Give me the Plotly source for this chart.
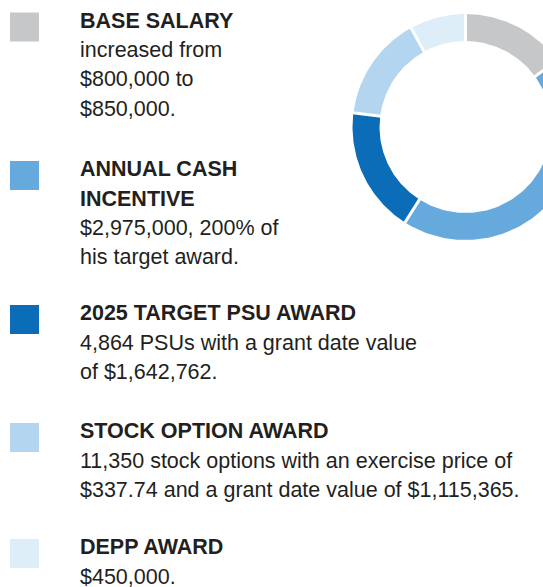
import numpy as np
import plotly.graph_objects as go

# ---- data ----
categories = ["Base salary", "Annual cash incentive", "2025 target PSU award",
              "Stock option award", "DEPP award"]
shares = [15, 44, 18, 15, 8]  # share of the ring (%)
title_lines = [["BASE SALARY"], ["ANNUAL CASH", "INCENTIVE"], ["2025 TARGET PSU AWARD"],
               ["STOCK OPTION AWARD"], ["DEPP AWARD"]]
detail_lines = [["increased from", "$800,000 to", "$850,000."],
                ["$2,975,000, 200% of", "his target award."],
                ["4,864 PSUs with a grant date value", "of $1,642,762."],
                ["11,350 stock options with an exercise price of",
                 "$337.74 and a grant date value of $1,115,365."],
                ["$450,000."]]

# ---- styles / layout (window pixel coordinates) ----
colors = ["#c6c7c9", "#66a9dc", "#0b6cb8", "#b4d5ef", "#ddeef9"]
W, H = 543, 587
CX, CY, R_OUT, R_IN = 465.5, 127, 113, 86
block_tops = [12.5, 161, 305, 423, 539]
SQ = 29
TEXT_X = 78
FS = 21.5
STEP = 29.4
FONT = "Liberation Sans, Arial, sans-serif"
TXT_COLOR = "#231f20"

fig = go.Figure()

total = float(sum(shares))
cum = np.concatenate([[0], np.cumsum(shares)]) / total * 2 * np.pi
for i, cat in enumerate(categories):
    t = np.linspace(cum[i], cum[i + 1], 120)
    xs = np.concatenate([CX + R_OUT * np.sin(t), CX + R_IN * np.sin(t[::-1])])
    ys = np.concatenate([CY - R_OUT * np.cos(t), CY - R_IN * np.cos(t[::-1])])
    fig.add_trace(go.Scatter(x=xs, y=ys, fill="toself", fillcolor=colors[i],
                             line=dict(width=0, color=colors[i]), mode="lines",
                             name=cat, hoverinfo="skip", showlegend=False))
# white separators between slices
for a in cum[:-1]:
    fig.add_trace(go.Scatter(x=[CX + (R_IN - 3) * np.sin(a), CX + (R_OUT + 3) * np.sin(a)],
                             y=[CY - (R_IN - 3) * np.cos(a), CY - (R_OUT + 3) * np.cos(a)],
                             mode="lines", line=dict(color="white", width=3),
                             hoverinfo="skip", showlegend=False))

annotations = []
shapes = []
for i in range(len(categories)):
    top = block_tops[i]
    shapes.append(dict(type="rect", xref="x", yref="y", x0=10, x1=10 + SQ,
                       y0=top, y1=top + SQ, fillcolor=colors[i], line=dict(width=0)))
    lines = [(f"<b>{s}</b>") for s in title_lines[i]] + detail_lines[i]
    base0 = top + 15.7
    for k, s in enumerate(lines):
        baseline = base0 + k * STEP
        annotations.append(dict(x=TEXT_X, y=baseline - 0.35 * FS, xref="x", yref="y",
                                text=s, showarrow=False, xanchor="left", yanchor="middle",
                                font=dict(family=FONT, size=FS, color=TXT_COLOR)))

fig.update_layout(
    width=W, height=H, margin=dict(l=0, r=0, t=0, b=0),
    paper_bgcolor="white", plot_bgcolor="white",
    xaxis=dict(range=[0, W], visible=False, fixedrange=True),
    yaxis=dict(range=[H, 0], visible=False, fixedrange=True),
    shapes=shapes, annotations=annotations, showlegend=False,
    hovermode=False,
)

fig.write_html(
    "out.html",
    config={"displayModeBar": False, "staticPlot": True},
    post_script=("document.body.style.margin='0';"
                 "document.body.style.overflow='hidden';"
                 "document.documentElement.style.overflow='hidden';"),
)
